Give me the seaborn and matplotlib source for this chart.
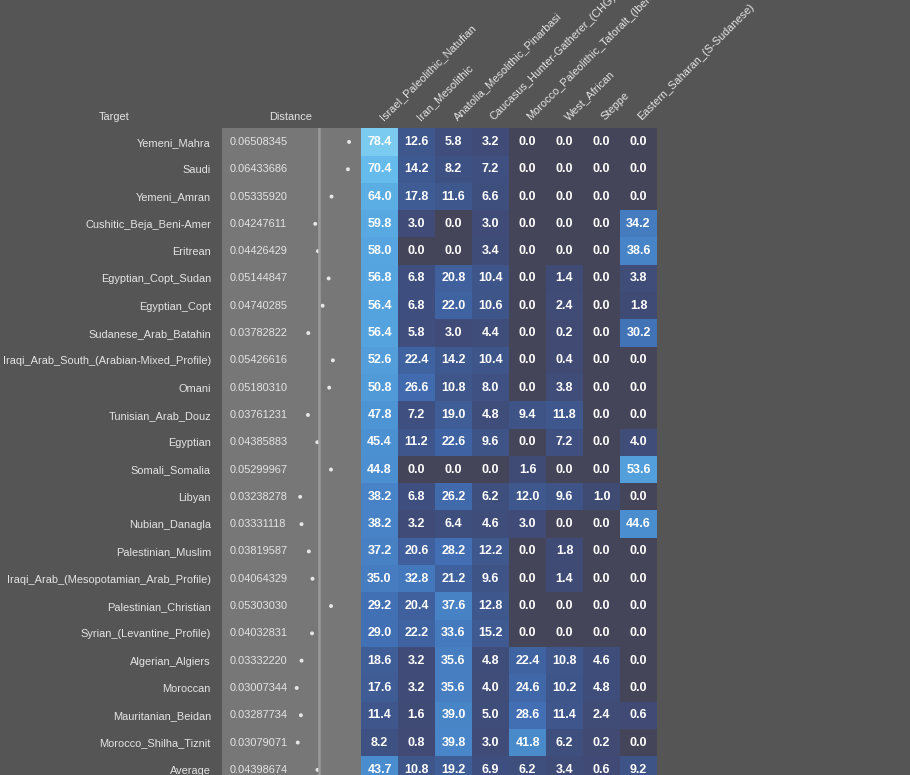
import numpy as np
import pandas as pd
import matplotlib
matplotlib.use("Agg")
import matplotlib.pyplot as plt
import matplotlib.transforms as mtransforms
from matplotlib.colors import LinearSegmentedColormap
import seaborn as sns

targets = [
    "Yemeni_Mahra", "Saudi", "Yemeni_Amran", "Cushitic_Beja_Beni-Amer", "Eritrean",
    "Egyptian_Copt_Sudan", "Egyptian_Copt", "Sudanese_Arab_Batahin",
    "Iraqi_Arab_South_(Arabian-Mixed_Profile)", "Omani", "Tunisian_Arab_Douz",
    "Egyptian", "Somali_Somalia", "Libyan", "Nubian_Danagla", "Palestinian_Muslim",
    "Iraqi_Arab_(Mesopotamian_Arab_Profile)", "Palestinian_Christian",
    "Syrian_(Levantine_Profile)", "Algerian_Algiers", "Moroccan",
    "Mauritanian_Beidan", "Morocco_Shilha_Tiznit", "Average",
]
distance = [
    0.06508345, 0.06433686, 0.05335920, 0.04247611, 0.04426429, 0.05144847,
    0.04740285, 0.03782822, 0.05426616, 0.05180310, 0.03761231, 0.04385883,
    0.05299967, 0.03238278, 0.03331118, 0.03819587, 0.04064329, 0.05303030,
    0.04032831, 0.03332220, 0.03007344, 0.03287734, 0.03079071, 0.04398674,
]
sources = [
    "Israel_Paleolithic_Natufian", "Iran_Mesolithic", "Anatolia_Mesolithic_Pinarbasi",
    "Caucasus_Hunter-Gatherer_(CHG)", "Morocco_Paleolithic_Taforalt_(Iberomaurusian)",
    "West_African", "Steppe", "Eastern_Saharan_(S-Sudanese)",
]
israel_natufian = [78.4, 70.4, 64.0, 59.8, 58.0, 56.8, 56.4, 56.4, 52.6, 50.8, 47.8, 45.4,
                   44.8, 38.2, 38.2, 37.2, 35.0, 29.2, 29.0, 18.6, 17.6, 11.4, 8.2, 43.7]
iran_mesolithic = [12.6, 14.2, 17.8, 3.0, 0.0, 6.8, 6.8, 5.8, 22.4, 26.6, 7.2, 11.2,
                   0.0, 6.8, 3.2, 20.6, 32.8, 20.4, 22.2, 3.2, 3.2, 1.6, 0.8, 10.8]
anatolia_pinarbasi = [5.8, 8.2, 11.6, 0.0, 0.0, 20.8, 22.0, 3.0, 14.2, 10.8, 19.0, 22.6,
                      0.0, 26.2, 6.4, 28.2, 21.2, 37.6, 33.6, 35.6, 35.6, 39.0, 39.8, 19.2]
caucasus_chg = [3.2, 7.2, 6.6, 3.0, 3.4, 10.4, 10.6, 4.4, 10.4, 8.0, 4.8, 9.6,
                0.0, 6.2, 4.6, 12.2, 9.6, 12.8, 15.2, 4.8, 4.0, 5.0, 3.0, 6.9]
morocco_taforalt = [0.0, 0.0, 0.0, 0.0, 0.0, 0.0, 0.0, 0.0, 0.0, 0.0, 9.4, 0.0,
                    1.6, 12.0, 3.0, 0.0, 0.0, 0.0, 0.0, 22.4, 24.6, 28.6, 41.8, 6.2]
west_african = [0.0, 0.0, 0.0, 0.0, 0.0, 1.4, 2.4, 0.2, 0.4, 3.8, 11.8, 7.2,
                0.0, 9.6, 0.0, 1.8, 1.4, 0.0, 0.0, 10.8, 10.2, 11.4, 6.2, 3.4]
steppe = [0.0, 0.0, 0.0, 0.0, 0.0, 0.0, 0.0, 0.0, 0.0, 0.0, 0.0, 0.0,
          0.0, 1.0, 0.0, 0.0, 0.0, 0.0, 0.0, 4.6, 4.8, 2.4, 0.2, 0.6]
eastern_saharan = [0.0, 0.0, 0.0, 34.2, 38.6, 3.8, 1.8, 30.2, 0.0, 0.0, 0.0, 4.0,
                   53.6, 0.0, 44.6, 0.0, 0.0, 0.0, 0.0, 0.0, 0.0, 0.6, 0.0, 9.2]

df = pd.DataFrame(
    np.array([israel_natufian, iran_mesolithic, anatolia_pinarbasi, caucasus_chg,
              morocco_taforalt, west_african, steppe, eastern_saharan]).T,
    index=targets, columns=sources,
)

BG = "#555555"
TXT = "#e4e4e4"
FONT = ["Liberation Sans", "DejaVu Sans"]
FS = 7.9

sns.set_theme(style="dark")
plt.rcParams["font.family"] = FONT
plt.rcParams["figure.facecolor"] = BG

vmax = 78.4
stops = [
    (0.0, "#45455a"), (0.15, "#404a73"), (3.0, "#404c77"), (7.0, "#3e4f7f"),
    (11.0, "#3e568b"), (18.0, "#3f5c95"), (22.4, "#3f63a1"), (29.0, "#4270b5"),
    (38.0, "#4783c6"), (45.0, "#4b8fd0"), (54.0, "#53a0dc"), (60.0, "#58a8e2"),
    (64.0, "#5aaee4"), (70.4, "#65bbec"), (78.4, "#7bcbf0"),
]
cmap = LinearSegmentedColormap.from_list(
    "mix", [(v / vmax, c) for v, c in stops], N=4096)

W, H = 910, 775
fig = plt.figure(figsize=(W / 100, H / 100), dpi=100, facecolor=BG)

top_px, row_h = 128.3, 27.3
n = len(targets)
bottom_px = top_px + n * row_h
ax_b = 1 - bottom_px / H
ax_h = (n * row_h) / H

hm_l, hm_r = 361, 657
ax = fig.add_axes([hm_l / W, ax_b, (hm_r - hm_l) / W, ax_h])
sns.heatmap(df, ax=ax, cmap=cmap, vmin=0, vmax=vmax, annot=True, fmt=".1f",
            cbar=False, xticklabels=False, yticklabels=False,
            annot_kws={"color": "white", "fontsize": 9.0, "fontweight": "bold",
                       "family": FONT})
ax.set_xlabel("")
ax.set_ylabel("")
for s in ax.spines.values():
    s.set_visible(False)

# column headers rotated
lbl_y = 1 + (top_px - 121) / (n * row_h)
trans = mtransforms.blended_transform_factory(ax.transData, ax.transAxes)
for j, name in enumerate(sources):
    ax.text(j + 0.6, lbl_y, name, rotation=45, rotation_mode="anchor",
            ha="left", va="baseline", color=TXT, fontsize=FS,
            transform=trans, clip_on=False)

# distance panel
d_l, d_r = 222, 361
dax = fig.add_axes([d_l / W, ax_b, (d_r - d_l) / W, ax_h])
dax.set_facecolor("#777777")
px_a, px_b = 251.7, 1496.0
dax.set_xlim((d_l - px_a) / px_b, (d_r - px_a) / px_b)
dax.set_ylim(n, 0)
ypos = np.arange(n) + 0.5
sns.scatterplot(x=distance, y=ypos, ax=dax, s=8, color="#e6e6e6",
                edgecolor="none", legend=False)
dax.axvline((319 - px_a) / px_b, color="#9a9a9a", lw=1.8)
tr2 = mtransforms.blended_transform_factory(dax.transAxes, dax.transData)
for y, d in zip(ypos, distance):
    dax.text((230 - d_l) / (d_r - d_l), y, f"{d:.8f}", ha="left", va="center",
             color=TXT, fontsize=FS, transform=tr2)
dax.set_xticks([])
dax.set_yticks(ypos)
dax.set_yticklabels(targets, color=TXT, fontsize=FS)
dax.tick_params(axis="y", length=0, pad=8)
dax.grid(False)
for s in dax.spines.values():
    s.set_visible(False)

fig.text(114 / W, 1 - 117 / H, "Target", ha="center", va="center",
         color=TXT, fontsize=FS)
fig.text(291 / W, 1 - 117 / H, "Distance", ha="center", va="center",
         color=TXT, fontsize=FS)

fig.savefig("out.png", dpi=100, facecolor=BG)
